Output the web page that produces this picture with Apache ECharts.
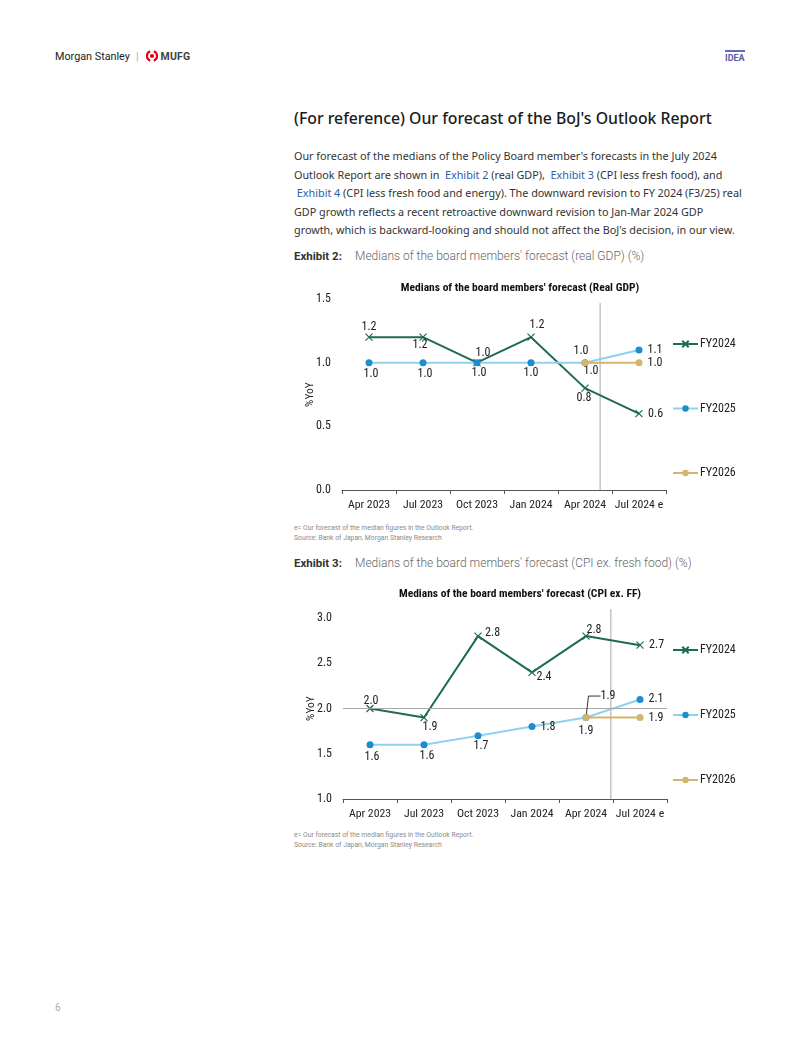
<!DOCTYPE html>
<html><head><meta charset="utf-8">
<script src="https://cdn.jsdelivr.net/npm/echarts@6/dist/echarts.min.js"></script>
<style>
html,body{margin:0;padding:0;background:#fff;}
body{width:802px;height:1037px;position:relative;overflow:hidden;color:#222;}
.abs{position:absolute;white-space:nowrap;}
#hdr{left:55px;top:49px;font-family:Roboto,sans-serif;font-size:10.8px;color:#222;display:flex;align-items:center;height:14px;}
#hdr .sep{color:#aaa;margin:0 7px 0 6px;font-size:11px;}
#hdr .mufg{font-weight:700;color:#444;font-size:10.5px;margin-left:3px;letter-spacing:0.2px;}
#idea{left:725px;top:50px;font-family:Roboto,sans-serif;font-size:9px;font-weight:700;color:#5a5aa8;border-top:2px solid #6a6ab0;padding-top:1px;line-height:10px;}
#title{left:294px;top:107px;font-family:"Noto Sans",sans-serif;font-size:15.8px;font-weight:500;color:#1a1a1a;line-height:22px;}
#para{left:294px;top:147px;font-family:"Noto Sans",sans-serif;font-size:10.8px;color:#333;line-height:18.6px;}
#para a{color:#2a5db0;text-decoration:none;}
.exh{left:294px;font-family:Roboto,sans-serif;font-size:11.5px;line-height:14px;}
.exh b{color:#333;font-weight:700;display:inline-block;width:61px;}
.exh span{color:#666;font-weight:300;font-size:12px;}
.foot{left:294px;font-family:Roboto,sans-serif;font-size:6.8px;color:#8a8a8a;line-height:10px;}
.chart{position:absolute;left:290px;width:460px;height:245px;}
#pg{left:55px;top:1002px;font-family:Roboto,sans-serif;font-size:10px;color:#aaa;}
</style></head>
<body>
<div id="hdr" class="abs">Morgan Stanley<span class="sep">|</span><svg width="12" height="12" viewBox="0 0 12 12"><path d="M4.2,1.3 A5,5 0 0 0 4.2,10.7" stroke="#e60012" stroke-width="2.2" fill="none"/><path d="M7.8,1.3 A5,5 0 0 1 7.8,10.7" stroke="#e60012" stroke-width="2.2" fill="none"/><circle cx="6" cy="6" r="2.1" fill="#e60012"/></svg><span class="mufg">MUFG</span></div>
<div id="idea" class="abs">IDEA</div>
<div id="title" class="abs">(For reference) Our forecast of the BoJ's Outlook Report</div>
<div id="para" class="abs">Our forecast of the medians of the Policy Board member's forecasts in the July 2024<br>Outlook Report are shown in &nbsp;<a>Exhibit 2</a> (real GDP), &nbsp;<a>Exhibit 3</a> (CPI less fresh food), and<br>&nbsp;<a>Exhibit 4</a> (CPI less fresh food and energy). The downward revision to FY 2024 (F3/25) real<br>GDP growth reflects a recent retroactive downward revision to Jan-Mar 2024 GDP<br>growth, which is backward-looking and should not affect the BoJ's decision, in our view.</div>
<div class="abs exh" style="top:249px"><b>Exhibit 2:</b><span>Medians of the board members' forecast (real GDP) (%)</span></div>
<div id="c1" class="chart" style="top:270px"></div>
<div class="abs foot" style="top:523px">e= Our forecast of the median figures in the Outlook Report.<br>Source: Bank of Japan, Morgan Stanley Research</div>
<div class="abs exh" style="top:556px"><b>Exhibit 3:</b><span>Medians of the board members' forecast (CPI ex. fresh food) (%)</span></div>
<div id="c2" class="chart" style="top:578px"></div>
<div class="abs foot" style="top:830px">e= Our forecast of the median figures in the Outlook Report.<br>Source: Bank of Japan, Morgan Stanley Research</div>
<div id="pg" class="abs">6</div>
<script>
// ---------- DATA ----------
const categories = ['Apr 2023', 'Jul 2023', 'Oct 2023', 'Jan 2024', 'Apr 2024', 'Jul 2024 e'];
const seriesNames = ['FY2024', 'FY2025', 'FY2026'];

const gdpTitle = "Medians of the board members' forecast (Real GDP)";
const gdpFY2024 = [1.2, 1.2, 1.0, 1.2, 0.8, 0.6];
const gdpFY2025 = [1.0, 1.0, 1.0, 1.0, 1.0, 1.1];
const gdpFY2026 = [null, null, null, null, 1.0, 1.0];
const gdpAxis = { min: 0, max: 1.5, interval: 0.5 };
const gdpDividerAt = 4.78;      // divider position, in category-width units from the left edge

const cpiTitle = "Medians of the board members' forecast (CPI ex. FF)";
const cpiFY2024 = [2.0, 1.9, 2.8, 2.4, 2.8, 2.7];
const cpiFY2025 = [1.6, 1.6, 1.7, 1.8, 1.9, 2.1];
const cpiFY2026 = [null, null, null, null, 1.9, 1.9];
const cpiAxis = { min: 1.0, max: 3.0, interval: 0.5 };
const cpiDividerAt = 4.96;
const cpiReference = 2.0;

// ---------- LABEL PLACEMENT (style, not data) ----------
const gdpLabels = [
  [['top', 0, 5], ['bottom', -3, -7], ['top', 6, 5], ['top', 6, 3], ['bottom', -1, -5], ['right', 0, 0]],
  [['bottom', 2, -3], ['bottom', 2, -3], ['bottom', 2, -4], ['bottom', 0, -4], ['bottom', 6, -6], ['right', 0, 0]],
  [null, null, null, null, ['top', -4, 3], ['right', 0, 0]]
];
const cpiLabels = [
  [['top', 1, 8], ['bottom', 6, -6], ['right', -2, -3], ['bottom', 12, -10], ['top', 8, 9], ['right', 0, 0]],
  [['bottom', 2, -2], ['bottom', 3, -3], ['bottom', 3, -4], ['right', 0, 0], ['bottom', 0, -1], ['right', 0, 0]],
  [null, null, null, null, ['top', 0, 0, 'leader'], ['right', 0, 0]]
];
const leaderShift = { dx: 22, dy: -7 };

const FONT = '"Roboto Condensed", Roboto, sans-serif';
const COLORS = { FY2024: '#1e6b52', FY2025line: '#8fd2ee', FY2025dot: '#1a8fcf', FY2026: '#d3b66c' };
const CROSS = 'path://M0,0L10,10M10,0L0,10';

function buildData(vals, labels) {
  return vals.map((v, i) => {
    if (v === null) return '-';
    const l = labels[i];
    const item = { value: v };
    if (l) {
      item.label = { show: true, position: l[0], offset: [l[1], l[2]] };
      if (l[3] === 'leader') item.labelLine = { show: true, length2: 12, lineStyle: { color: '#333', width: 1 } };
    }
    return item;
  });
}

function makeOption(cfg) {
  const gridLeft = cfg.gridLeft, gridWidth = 324;
  const lineSeries = [
    {
      name: 'FY2024', type: 'line', data: buildData(cfg.s[0], cfg.labels[0]),
      symbol: CROSS, symbolSize: 7, showAllSymbol: true,
      lineStyle: { color: COLORS.FY2024, width: 2 },
      itemStyle: { color: COLORS.FY2024, borderColor: COLORS.FY2024, borderWidth: 1.2 },
      z: 3
    },
    {
      name: 'FY2025', type: 'line', data: buildData(cfg.s[1], cfg.labels[1]),
      symbol: 'circle', symbolSize: 7,
      lineStyle: { color: COLORS.FY2025line, width: 2 },
      itemStyle: { color: COLORS.FY2025dot },
      z: 4
    },
    {
      name: 'FY2026', type: 'line', data: buildData(cfg.s[2], cfg.labels[2]),
      symbol: 'circle', symbolSize: 7,
      lineStyle: { color: COLORS.FY2026, width: 2 },
      itemStyle: { color: COLORS.FY2026 },
      labelLine: { show: false },
      z: 5
    }
  ];
  lineSeries.forEach(s => {
    s.label = { show: false, fontFamily: FONT, fontSize: 12, color: '#222', formatter: p => (+p.value).toFixed(1) };
    s.emphasis = { disabled: true };
    s.animation = false;
  });
  if (cfg.refLine !== undefined) {
    lineSeries[0].markLine = {
      silent: true, symbol: 'none', label: { show: false },
      lineStyle: { color: '#a8a8a8', type: 'solid', width: 1 },
      data: [{ yAxis: cfg.refLine }], animation: false
    };
  }
  if (cfg.leader) {
    const labs = cfg.labels[2];
    lineSeries[2].labelLayout = function (p) {
      const l = labs[p.dataIndex];
      if (l && l[3] === 'leader') return { dx: leaderShift.dx, dy: leaderShift.dy };
      return {};
    };
  }
  return {
    animation: false,
    textStyle: { fontFamily: FONT },
    title: {
      text: cfg.title, left: 230, top: cfg.titleTop, textAlign: 'center', padding: 0,
      textStyle: { fontFamily: FONT, fontSize: 11.5, fontWeight: 'bold', color: '#111' }
    },
    legend: {
      orient: 'vertical', left: 382, top: cfg.legendTop, itemGap: cfg.legendGap, padding: 0,
      itemWidth: 25, itemHeight: 8, data: seriesNames,
      textStyle: { fontFamily: FONT, fontSize: 12, color: '#222', padding: [0, 0, 0, -3], lineHeight: 14 },
      selectedMode: false
    },
    grid: [
      { left: gridLeft, width: gridWidth, top: cfg.gridTop, height: cfg.gridHeight, containLabel: false, outerBoundsMode: 'none' },
      { left: gridLeft, width: gridWidth, top: cfg.divTop, height: cfg.gridTop + cfg.gridHeight - cfg.divTop, containLabel: false, outerBoundsMode: 'none' }
    ],
    xAxis: [
      {
        type: 'category', data: categories, gridIndex: 0, boundaryGap: true,
        axisLine: { lineStyle: { color: '#555', width: 1 } },
        axisTick: { show: true, length: 4, lineStyle: { color: '#555' } },
        axisLabel: { fontFamily: FONT, fontSize: 11.8, color: '#222', margin: 9, interval: 0 }
      },
      { type: 'value', gridIndex: 1, min: 0, max: categories.length, show: false }
    ],
    yAxis: [
      {
        type: 'value', gridIndex: 0, min: cfg.axis.min, max: cfg.axis.max, interval: cfg.axis.interval,
        axisLine: { show: false }, axisTick: { show: false }, splitLine: { show: false },
        axisLabel: { fontFamily: FONT, fontSize: 12, color: '#222', margin: 11, formatter: v => v.toFixed(1) },
        name: '%YoY', nameLocation: 'middle', nameGap: 26, nameRotate: 90, nameMoveOverlap: false,
        nameTextStyle: { fontFamily: FONT, fontSize: 11.5, color: '#222' }
      },
      { type: 'value', gridIndex: 1, min: 0, max: 1, show: false }
    ],
    series: [
      {
        type: 'line', xAxisIndex: 1, yAxisIndex: 1, data: [[cfg.divider, 0], [cfg.divider, 1]],
        symbol: 'none', silent: true, lineStyle: { color: '#a8a8a8', width: 1 }, z: 1,
        emphasis: { disabled: true }
      }
    ].concat(lineSeries)
  };
}

const c1 = echarts.init(document.getElementById('c1'));
c1.setOption(makeOption({
  title: gdpTitle, titleTop: 12, s: [gdpFY2024, gdpFY2025, gdpFY2026], labels: gdpLabels,
  axis: gdpAxis, gridLeft: 52, gridTop: 29, gridHeight: 191, divTop: 33, divider: gdpDividerAt,
  legendTop: 67, legendGap: 50.5, leader: false
}));

const c2 = echarts.init(document.getElementById('c2'));
c2.setOption(makeOption({
  title: cpiTitle, titleTop: 10, s: [cpiFY2024, cpiFY2025, cpiFY2026], labels: cpiLabels,
  axis: cpiAxis, gridLeft: 53, gridTop: 40, gridHeight: 181, divTop: 31, divider: cpiDividerAt,
  refLine: cpiReference, legendTop: 65, legendGap: 51, leader: true
}));
</script>
</body></html>
